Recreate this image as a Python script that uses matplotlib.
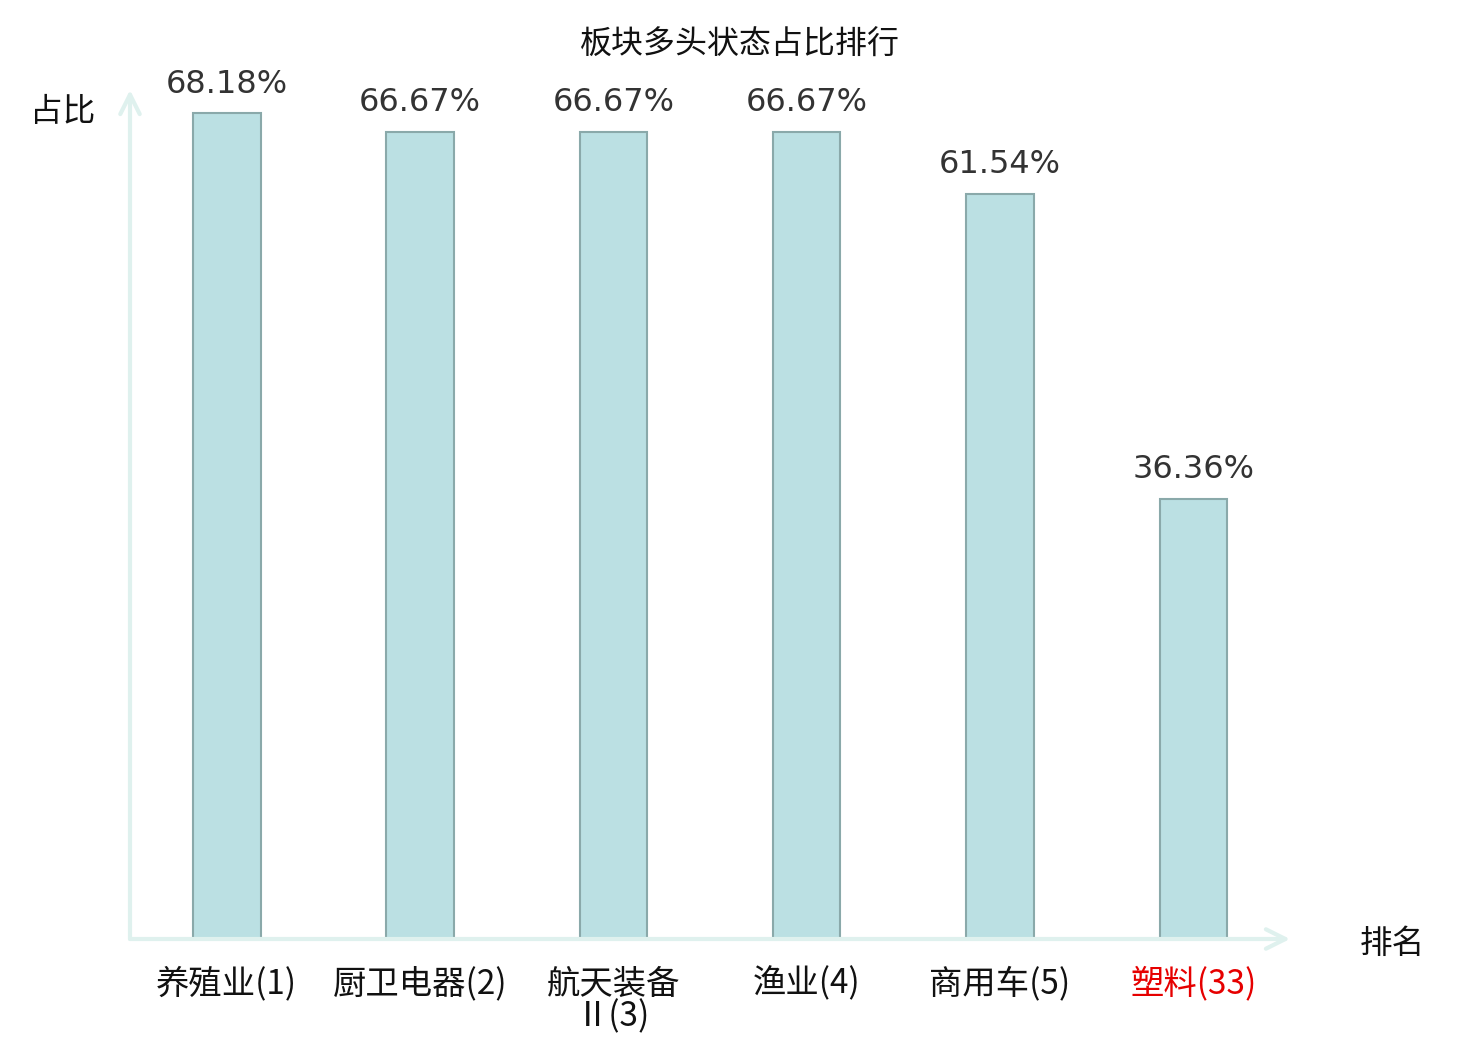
import matplotlib
matplotlib.use("Agg")
import matplotlib.pyplot as plt

plt.rcParams['font.family'] = ['Noto Sans CJK SC', 'DejaVu Sans']

categories = ["养殖业(1)", "厨卫电器(2)", "航天装备\nⅡ(3)", "渔业(4)", "商用车(5)", "塑料(33)"]
values = [68.18, 66.67, 66.67, 66.67, 61.54, 36.36]
label_colors = ["#111111", "#111111", "#111111", "#111111", "#111111", "#e60000"]
title = "板块多头状态占比排行"
y_label = "占比"
x_label = "排名"

fig = plt.figure(figsize=(14.8, 10.4), dpi=100)
ax = fig.add_axes([130/1480, 1 - 939/1040, 1160/1480, 849/1040])

x = list(range(len(categories)))
bars = ax.bar(x, values, width=0.35, color="#bbe0e3", edgecolor="#8aa9aa", linewidth=1.5, zorder=3)

ax.set_xlim(-0.5, 5.5)
ax.set_ylim(0, 70.1)

for xi, v in zip(x, values):
    ax.text(xi, v + 1.1, f"{v:.2f}%", ha="center", va="bottom", fontsize=23,
            color="#333333", family="DejaVu Sans")

ax.set_xticks(x)
ax.set_xticklabels(categories, fontsize=24, linespacing=0.9)
for lbl, c in zip(ax.get_xticklabels(), label_colors):
    lbl.set_color(c)
ax.tick_params(axis="x", length=0, pad=20)
ax.set_yticks([])
for s in ax.spines.values():
    s.set_visible(False)

axis_color = "#dff1ee"
ax.annotate("", xy=(1.0, 0), xytext=(0, 0), xycoords="axes fraction", textcoords="axes fraction",
            arrowprops=dict(arrowstyle="->", color=axis_color, lw=3, mutation_scale=35,
                            shrinkA=0, shrinkB=0), annotation_clip=False, zorder=4)
ax.annotate("", xy=(0, 1.0), xytext=(0, 0), xycoords="axes fraction", textcoords="axes fraction",
            arrowprops=dict(arrowstyle="->", color=axis_color, lw=3, mutation_scale=35,
                            shrinkA=0, shrinkB=0), annotation_clip=False, zorder=4)

ax.text(1.088, -0.006, x_label, transform=ax.transAxes, ha="center", va="center", fontsize=23.5, color="#111111")
ax.text(-0.058, 0.974, y_label, transform=ax.transAxes, ha="center", va="center", fontsize=23.5, color="#111111")

fig.text(0.5, 1 - 45/1040, title, ha="center", va="center", fontsize=23, color="#111111")

fig.savefig("out.png", dpi=100)
